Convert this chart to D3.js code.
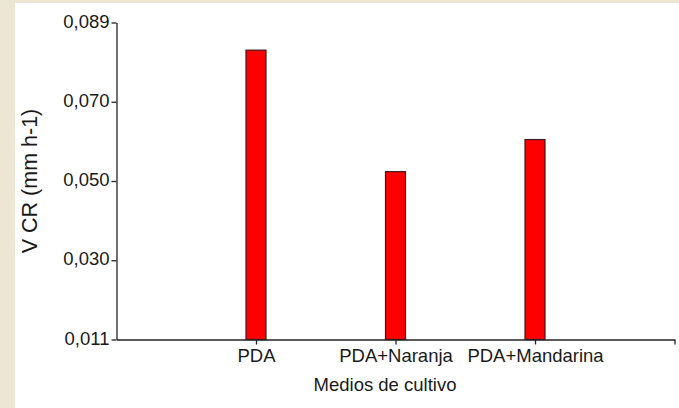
<!DOCTYPE html>
<html>
<head>
<meta charset="utf-8">
<script src="https://cdn.jsdelivr.net/npm/d3@7/dist/d3.min.js"></script>
<style>
  html, body { margin: 0; padding: 0; background: #ffffff; }
  svg { display: block; }
  text { font-family: "Liberation Sans", Arial, sans-serif; fill: #1a1a1a; }
</style>
</head>
<body>
<svg id="chart" width="679" height="408"></svg>
<script>
// Growth rate (V CR, mm h-1) per culture medium
const categories = ["PDA", "PDA+Naranja", "PDA+Mandarina"];
const values = [0.0822, 0.0523, 0.0602];
const yTickValues = [0.011, 0.0305, 0.050, 0.0695, 0.089];
const yTickLabels = ["0,011", "0,030", "0,050", "0,070", "0,089"];

const W = 679, H = 408;
const svg = d3.select("#chart");

// page frame: beige strip on the left and top
svg.append("rect").attr("x", 0).attr("y", 0).attr("width", W).attr("height", H).attr("fill", "#eee6d4");
svg.append("rect").attr("x", 15).attr("y", 3).attr("width", W - 15).attr("height", H - 3).attr("fill", "#ffffff");

const x0 = 116.5, x1 = 674.5, yTop = 22.5, yBot = 339.5;

// category slots sit at 1..n, with one empty slot at each end
const x = d3.scaleLinear().domain([0, categories.length + 1]).range([x0, x1]);
const y = d3.scaleLinear().domain([0.011, 0.089]).range([yBot, yTop]);

const barW = 20;
svg.append("g").selectAll("rect")
  .data(values)
  .join("rect")
  .attr("x", (d, i) => x(i + 1) - barW / 2)
  .attr("y", d => y(d))
  .attr("width", barW)
  .attr("height", d => y(0.011) - y(d))
  .attr("fill", "#ff0000")
  .attr("stroke", "#3a1a1a")
  .attr("stroke-width", 1.2);

// y axis
const yAxis = d3.axisLeft(y)
  .tickValues(yTickValues)
  .tickFormat((d, i) => yTickLabels[i])
  .tickSize(5)
  .tickSizeOuter(0)
  .tickPadding(2);
const gy = svg.append("g").attr("transform", `translate(${x0},0)`).call(yAxis);
gy.selectAll("text").style("font-size", "18.5px").attr("fill", "#1a1a1a").attr("dy", "0.25em");
gy.selectAll("line, path").attr("stroke", "#222").attr("stroke-width", 1.3);

// x axis
const xAxis = d3.axisBottom(x)
  .tickValues(d3.range(1, categories.length + 2))
  .tickFormat(d => categories[d - 1] || "")
  .tickSize(5)
  .tickSizeOuter(0)
  .tickPadding(4);
const gx = svg.append("g").attr("transform", `translate(0,${yBot})`).call(xAxis);
gx.selectAll("text").style("font-size", "18.5px").attr("fill", "#1a1a1a");
gx.selectAll("line, path").attr("stroke", "#222").attr("stroke-width", 1.3);

// axis titles
svg.append("text")
  .attr("x", 385)
  .attr("y", 391)
  .attr("text-anchor", "middle")
  .style("font-size", "18.5px")
  .text("Medios de cultivo");

svg.append("text")
  .attr("transform", `translate(37,${(yTop + yBot) / 2}) rotate(-90)`)
  .attr("text-anchor", "middle")
  .style("font-size", "21.5px")
  .text("V CR (mm h-1)");
</script>
</body>
</html>
